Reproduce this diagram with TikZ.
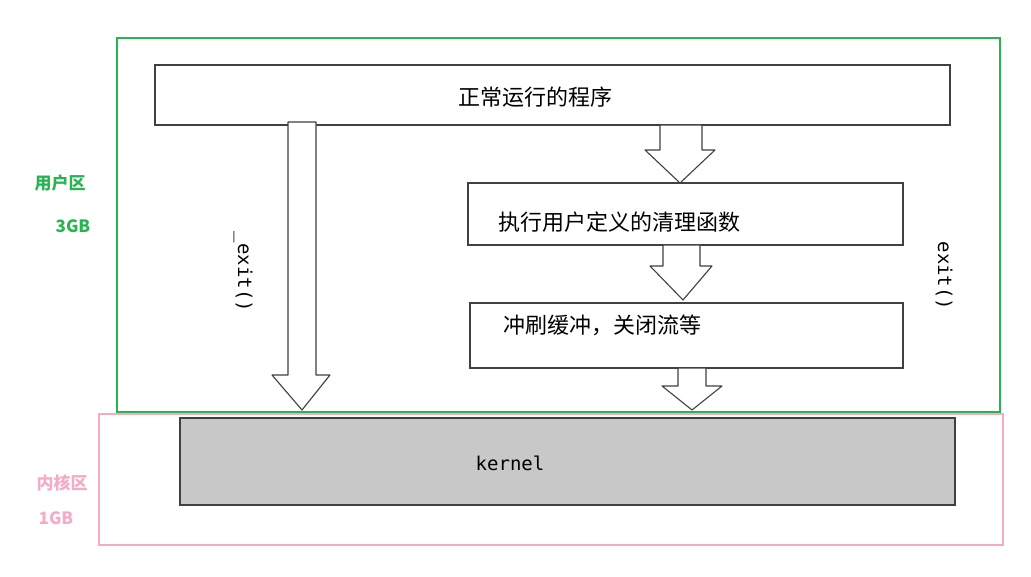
\documentclass[tikz,border=0pt]{standalone}
\usepackage{fontspec}
\newfontfamily\cjk{Noto Sans CJK SC}
\newfontfamily\monof{DejaVu Sans Mono}
\definecolor{zgreen}{RGB}{40,180,80}
\definecolor{zpink}{RGB}{245,170,200}
\definecolor{kgray}{RGB}{200,200,200}
\begin{document}
\begin{tikzpicture}[x=1pt,y=-1pt,
  boxst/.style={draw=black!75,line width=1.2pt,fill=white},
  arr/.style={draw=black!75,line width=1.1pt,fill=white,line join=round},
  lbl/.style={font=\cjk\fontsize{22}{26}\selectfont},
  zl/.style={font=\cjk\bfseries\fontsize{17}{20}\selectfont},
  side/.style={font=\monof\fontsize{19}{22}\selectfont,rotate=-90}]
\useasboundingbox (0,0) rectangle (1031,577);
\draw[zgreen,line width=2pt] (117,38) rectangle (1000,412);
\draw[zpink,line width=2pt] (99,414) rectangle (1003,545);
\node[zl,text=zgreen] (u1) at (60,183) {用户区};
\node[zl,text=zgreen] (u2) at (73,226) {3GB};
\node[zl,text=zpink] (k1) at (62,483) {内核区};
\node[zl,text=zpink] (k2) at (56,518) {1GB};
\draw[boxst] (155,65) rectangle (950,125);
\node[lbl] (t1) at (535,97) {正常运行的程序};
\draw[boxst] (468,183) rectangle (903,245);
\node[lbl,anchor=west] (t2) at (495,222) {执行用户定义的清理函数};
\draw[boxst] (470,303) rectangle (903,368);
\node[lbl,anchor=west] (t3) at (500,325) {冲刷缓冲，关闭流等};
\draw[draw=black!75,line width=1.2pt,fill=kgray] (180,418) rectangle (955,505);
\node[font=\monof\fontsize{19}{22}\selectfont] (kn) at (510,463) {kernel};
% arrows
\draw[arr] (288,122) -- (316,122) -- (316,375) -- (330,375) -- (302,410) -- (272,375) -- (288,375) -- cycle;
\draw[arr] (660,125) -- (702,125) -- (702,150) -- (715,150) -- (680,183) -- (645,150) -- (660,150) -- cycle;
\draw[arr] (663,245) -- (700,245) -- (700,266) -- (712,266) -- (683,300) -- (650,266) -- (663,266) -- cycle;
\draw[arr] (678,368) -- (706,368) -- (706,386) -- (722,386) -- (692,410) -- (662,386) -- (678,386) -- cycle;
\node[side] (e1) at (243,272) {\_exit()};
\node[side] (e2) at (944,276) {exit()};
\end{tikzpicture}
\end{document}
